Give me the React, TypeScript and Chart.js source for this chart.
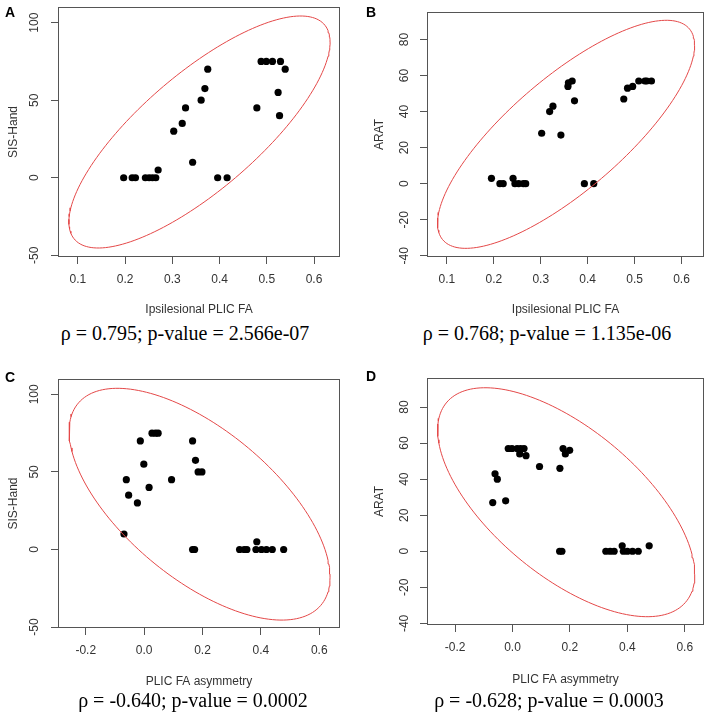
import React, { useEffect, useRef } from "react";
import { Chart, registerables } from "chart.js";
Chart.register(...registerables);

// ---------- Data ----------
// Panel A: Ipsilesional PLIC FA vs SIS-Hand
const aX = [0.197, 0.215, 0.222, 0.243, 0.251, 0.258, 0.265, 0.27, 0.303, 0.321, 0.328, 0.343, 0.361, 0.369, 0.375, 0.396, 0.416, 0.479, 0.488, 0.499, 0.512, 0.529, 0.539, 0.524, 0.527];
const aY = [0, 0, 0, 0, 0, 0, 0, 5, 30, 35, 45, 10, 50, 57.5, 70, 0, 0, 45, 75, 75, 75, 75, 70, 55, 40];
// Panel B: Ipsilesional PLIC FA vs ARAT
const bX = [0.195, 0.213, 0.22, 0.241, 0.245, 0.253, 0.263, 0.268, 0.302, 0.319, 0.326, 0.343, 0.358, 0.359, 0.367, 0.372, 0.393, 0.413, 0.477, 0.485, 0.496, 0.509, 0.522, 0.526, 0.536];
const bY = [3, 0, 0, 3, 0, 0, 0, 0, 28, 40, 43, 27, 54, 56, 57, 46, 0, 0, 47, 53, 54, 57, 57, 57, 57];
// Panel C: PLIC FA asymmetry vs SIS-Hand
const cX = [-0.069, -0.061, -0.053, -0.023, -0.013, -0.001, 0.017, 0.027, 0.039, 0.048, 0.094, 0.166, 0.176, 0.185, 0.198, 0.166, 0.173, 0.327, 0.343, 0.352, 0.383, 0.402, 0.419, 0.439, 0.478, 0.386];
const cY = [10, 45, 35, 30, 70, 55, 40, 75, 75, 75, 45, 70, 57.5, 50, 50, 0, 0, 0, 0, 0, 0, 0, 0, 0, 0, 5];
// Panel D: PLIC FA asymmetry vs ARAT
const dX = [-0.069, -0.061, -0.053, -0.024, -0.015, -0.002, 0.016, 0.028, 0.04, 0.025, 0.047, 0.094, 0.165, 0.176, 0.184, 0.199, 0.164, 0.172, 0.325, 0.34, 0.354, 0.386, 0.4, 0.418, 0.438, 0.382, 0.476];
const dY = [27, 43, 40, 28, 57, 57, 57, 57, 57, 54, 53, 47, 46, 57, 54, 56, 0, 0, 0, 0, 0, 0, 0, 0, 0, 3, 3];

// Data ellipses: [centre x, centre y, half-width x, half-height y, correlation]
const aEllipse = [0.3575, 29.5, 0.2765, 74.8, 0.775];
const bEllipse = [0.354, 27.4, 0.274, 63.3, 0.78];
const cEllipse = [0.19, 29.2, 0.447, 74.7, -0.63];
const dEllipse = [0.187, 27.2, 0.448, 63.5, -0.63];

// Axis limits: [xMin, xMax, yMin, yMax]
const aRange = [0.058, 0.655, -51.1, 110.1];
const bRange = [0.0576, 0.648, -40.7, 95.3];
const cRange = [-0.295, 0.671, -50.6, 109.9];
const dRange = [-0.298, 0.667, -40.9, 96.1];

// Tick values
const faTicks = [0.1, 0.2, 0.3, 0.4, 0.5, 0.6];
const asymTicks = [-0.2, 0.0, 0.2, 0.4, 0.6];
const sisTicks = [-50, 0, 50, 100];
const aratTicks = [-40, -20, 0, 20, 40, 60, 80];

// Texts
const panelLetters = ["A", "B", "C", "D"];
const xTitles = ["Ipsilesional PLIC FA", "Ipsilesional PLIC FA", "PLIC FA asymmetry", "PLIC FA asymmetry"];
const yTitles = ["SIS-Hand", "ARAT", "SIS-Hand", "ARAT"];
const captions = [
  "ρ = 0.795; p-value = 2.566e-07",
  "ρ = 0.768; p-value = 1.135e-06",
  "ρ = -0.640; p-value = 0.0002",
  "ρ = -0.628; p-value = 0.0003",
];

// ---------- Layout ----------
const SANS = "'Liberation Sans', Arial, sans-serif";
const SERIF = "'Liberation Serif', 'Times New Roman', serif";
const TEXT = "#333333";
const LINE = "#555555";
const ELLIPSE = "#e44848";

type Spec = {
  left: number; top: number; width: number; height: number;
  pad: number[]; yW: number; xH: number;
  xs: number[]; ys: number[]; ell: number[]; range: number[];
  xTicks: number[]; yTicks: number[];
  xTitle: string; yTitle: string;
  xTitlePad: number; yTitlePad: number; yTickPad: number; xTickPad: number;
};

const specs: Spec[] = [
  { left: 0, top: 0, width: 354, height: 320, pad: [0, 7, 14, 0], yW: 58, xH: 63,
    xs: aX, ys: aY, ell: aEllipse, range: aRange, xTicks: faTicks, yTicks: sisTicks,
    xTitle: xTitles[0], yTitle: yTitles[0], xTitlePad: 3, yTitlePad: 6, yTickPad: 6, xTickPad: 8 },
  { left: 354, top: 0, width: 354, height: 320, pad: [0, 12, 3, 0], yW: 73, xH: 63,
    xs: bX, ys: bY, ell: bEllipse, range: bRange, xTicks: faTicks, yTicks: aratTicks,
    xTitle: xTitles[1], yTitle: yTitles[1], xTitlePad: 3, yTitlePad: 18, yTickPad: 7, xTickPad: 8 },
  { left: 0, top: 360, width: 354, height: 340, pad: [0, 19, 14, 0], yW: 58, xH: 72,
    xs: cX, ys: cY, ell: cEllipse, range: cRange, xTicks: asymTicks, yTicks: sisTicks,
    xTitle: xTitles[2], yTitle: yTitles[2], xTitlePad: 11, yTitlePad: 6, yTickPad: 6, xTickPad: 8 },
  { left: 354, top: 360, width: 354, height: 340, pad: [0, 18, 3, 0], yW: 73, xH: 75,
    xs: dX, ys: dY, ell: dEllipse, range: dRange, xTicks: asymTicks, yTicks: aratTicks,
    xTitle: xTitles[3], yTitle: yTitles[3], xTitlePad: 13, yTitlePad: 18, yTickPad: 7, xTickPad: 8 },
];

const letterPos = [[5, 5], [366, 5], [5, 370], [366, 369]];
const captionPos = [[185, 333], [547, 333], [193, 700], [549, 700]];

function ellipsePoints(e: number[]) {
  const [cx, cy, rx, ry, r] = e;
  const phi = Math.acos(r);
  const pts: { x: number; y: number }[] = [];
  const n = 180;
  for (let i = 0; i <= n; i++) {
    const t = (2 * Math.PI * i) / n;
    pts.push({ x: cx + rx * Math.cos(t), y: cy + ry * Math.cos(t - phi) });
  }
  return pts;
}

const boxPlugin = {
  id: "rbox",
  afterDraw(chart: any) {
    const { ctx, chartArea } = chart;
    ctx.save();
    ctx.strokeStyle = LINE;
    ctx.lineWidth = 1;
    const l = Math.round(chartArea.left) + 0.5;
    const t = Math.round(chartArea.top) + 0.5;
    const r = Math.round(chartArea.right) - 0.5;
    const b = Math.round(chartArea.bottom) - 0.5;
    ctx.strokeRect(l, t, r - l, b - t);
    ctx.restore();
  },
};

function Panel({ s }: { s: Spec }) {
  const ref = useRef<HTMLCanvasElement>(null);
  useEffect(() => {
    if (!ref.current) return;
    const xDigits = 1;
    const chart = new Chart(ref.current, {
      type: "scatter",
      data: {
        datasets: [
          {
            data: ellipsePoints(s.ell),
            showLine: true,
            borderColor: ELLIPSE,
            borderWidth: 1,
            pointRadius: 0,
            fill: false,
            tension: 0,
          } as any,
          {
            data: s.xs.map((x, i) => ({ x, y: s.ys[i] })),
            pointRadius: 3.6,
            pointBackgroundColor: "#000000",
            pointBorderWidth: 0,
            showLine: false,
          } as any,
        ],
      },
      options: {
        animation: false,
        responsive: false,
        maintainAspectRatio: false,
        events: [],
        layout: { padding: { left: s.pad[0], top: s.pad[1], right: s.pad[2], bottom: s.pad[3] } },
        plugins: { legend: { display: false }, tooltip: { enabled: false }, title: { display: false } },
        scales: {
          x: {
            type: "linear",
            position: "bottom",
            min: s.range[0],
            max: s.range[1],
            afterBuildTicks: (sc: any) => { sc.ticks = s.xTicks.map((v) => ({ value: v })); },
            afterFit: (sc: any) => {
              sc.height = s.xH;
              sc.paddingLeft = 0; sc.paddingRight = 0; sc.paddingTop = 0; sc.paddingBottom = 0;
            },
            grid: { display: true, drawOnChartArea: false, drawTicks: true, tickLength: 7, color: LINE, lineWidth: 1 },
            border: { display: false },
            ticks: {
              padding: s.xTickPad, color: TEXT, font: { family: SANS, size: 12 },
              minRotation: 0, maxRotation: 0, autoSkip: false,
              callback: (v: any) => Number(v).toFixed(xDigits),
            },
            title: { display: true, text: s.xTitle, color: TEXT, font: { family: SANS, size: 12 }, padding: { top: 0, bottom: s.xTitlePad } },
          },
          y: {
            type: "linear",
            position: "left",
            min: s.range[2],
            max: s.range[3],
            afterBuildTicks: (sc: any) => { sc.ticks = s.yTicks.map((v) => ({ value: v })); },
            afterFit: (sc: any) => {
              sc.width = s.yW;
              sc.paddingLeft = 0; sc.paddingRight = 0; sc.paddingTop = 0; sc.paddingBottom = 0;
            },
            grid: { display: true, drawOnChartArea: false, drawTicks: true, tickLength: 7, color: LINE, lineWidth: 1 },
            border: { display: false },
            ticks: {
              padding: s.yTickPad, color: TEXT, font: { family: SANS, size: 12 },
              minRotation: 90, maxRotation: 90, crossAlign: "center", autoSkip: false,
              callback: (v: any) => String(Math.round(Number(v))),
            },
            title: { display: true, text: s.yTitle, color: TEXT, font: { family: SANS, size: 12 }, padding: { top: s.yTitlePad, bottom: 0 } },
          },
        },
      } as any,
      plugins: [boxPlugin],
    });
    return () => chart.destroy();
  }, [s]);
  return (
    <canvas
      ref={ref}
      width={s.width}
      height={s.height}
      style={{ position: "absolute", left: s.left, top: s.top, width: s.width, height: s.height }}
    />
  );
}

export default function App() {
  return (
    <div style={{ position: "absolute", left: 0, top: 0, width: 708, height: 717, background: "#ffffff", overflow: "hidden" }}>
      {specs.map((s, i) => (
        <Panel key={i} s={s} />
      ))}
      {panelLetters.map((l, i) => (
        <div
          key={"l" + i}
          style={{
            position: "absolute", left: letterPos[i][0], top: letterPos[i][1],
            font: `bold 14px ${SANS}`, lineHeight: "14px", color: "#000",
          }}
        >
          {l}
        </div>
      ))}
      {captions.map((c, i) => (
        <div
          key={"c" + i}
          style={{
            position: "absolute", left: captionPos[i][0], top: captionPos[i][1],
            transform: "translate(-50%, -50%)", whiteSpace: "nowrap",
            font: `20px ${SERIF}`, lineHeight: "22px", color: "#000",
          }}
        >
          {c}
        </div>
      ))}
    </div>
  );
}
